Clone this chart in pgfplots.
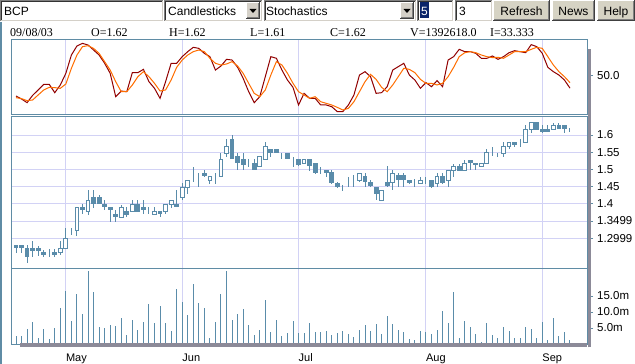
\documentclass[border=0pt]{standalone}
\usepackage{fontspec}
\setmainfont{Liberation Serif}
\newfontfamily\arial{Liberation Sans}
\usepackage{pgfplots}
\usepackage{pgfplotstable}
\pgfplotsset{compat=1.18}
\definecolor{frame}{RGB}{95,140,165}
\definecolor{candle}{RGB}{90,140,170}
\definecolor{lav}{RGB}{210,210,245}
\definecolor{kred}{RGB}{145,0,0}
\definecolor{dorg}{RGB}{255,110,0}
\definecolor{band}{RGB}{140,138,152}
\definecolor{btn}{RGB}{214,211,196}
\definecolor{face}{RGB}{212,208,200}
\definecolor{navy}{RGB}{10,36,106}

\pgfplotstableread{
i o h l c v k d
0 1.280 1.280 1.258 1.273 2.6 22.8 20.6
1 1.280 1.280 1.258 1.273 2.6 18.8 19.3
2 1.270 1.280 1.229 1.246 4.7 13.9 16.6
3 1.270 1.292 1.246 1.263 6.9 23.7 17.5
4 1.270 1.277 1.248 1.263 1.9 30.9 24.2
5 1.259 1.266 1.244 1.252 4.7 38.4 30.9
6 1.251 1.270 1.244 1.251 1.6 38.4 34.4
7 1.259 1.270 1.246 1.252 5.0 27.3 34.0
8 1.259 1.292 1.251 1.270 11.25 37.6 33.1
9 1.270 1.329 1.270 1.300 16.6 53.2 38.9
10 1.321 1.329 1.309 1.321 7.2 77.7 59.9
11 1.321 1.389 1.307 1.389 15.6 89.8 77.7
12 1.390 1.398 1.369 1.382 9.4 93.3 88.9
13 1.377 1.440 1.367 1.411 22.8 91.1 90.2
14 1.419 1.440 1.387 1.401 16.25 84.4 86.6
15 1.419 1.426 1.398 1.401 5.3 77.7 79.9
16 1.398 1.411 1.382 1.392 5.0 66.6 68.8
17 1.390 1.390 1.348 1.382 5.9 53.2 57.6
18 1.369 1.382 1.348 1.362 5.6 21.9 42.0
19 1.361 1.396 1.361 1.389 8.1 29.5 28.6
20 1.379 1.392 1.363 1.370 2.8 28.6 28.6
21 1.377 1.411 1.377 1.398 7.5 54.1 37.6
22 1.398 1.411 1.377 1.379 4.4 54.1 48.7
23 1.390 1.411 1.369 1.382 6.9 58.5 55.4
24 1.379 1.390 1.369 1.379 12.5 42.0 48.7
25 1.370 1.390 1.370 1.379 6.6 33.1 39.8
26 1.379 1.379 1.363 1.372 11.9 19.7 29.5
27 1.379 1.398 1.369 1.398 6.6 42.0 30.9
28 1.398 1.411 1.387 1.411 4.1 66.6 44.2
29 1.398 1.440 1.392 1.392 17.2 66.6 61.2
30 1.419 1.460 1.411 1.448 13.1 75.5 71.0
31 1.448 1.468 1.428 1.468 9.1 82.2 77.7
32 1.479 1.508 1.464 1.479 18.75 88.0 82.2
33 1.489 1.489 1.448 1.489 12.8 86.6 84.4
34 1.489 1.498 1.479 1.482 11.25 79.9 82.2
35 1.467 1.479 1.459 1.479 1.9 75.5 73.3
36 1.467 1.489 1.459 1.467 6.9 57.6 66.6
37 1.479 1.547 1.479 1.529 15.6 63.0 64.3
38 1.547 1.587 1.537 1.566 22.8 71.9 65.7
39 1.587 1.600 1.529 1.532 7.5 71.0 68.8
40 1.537 1.547 1.498 1.519 9.4 61.2 63.0
41 1.529 1.547 1.498 1.513 10.9 46.5 53.2
42 1.519 1.529 1.508 1.519 5.9 28.6 39.8
43 1.517 1.529 1.498 1.500 2.8 13.9 26.4
44 1.508 1.537 1.508 1.537 4.4 21.9 21.9
45 1.529 1.581 1.529 1.566 13.75 48.7 30.9
46 1.558 1.558 1.537 1.549 3.75 75.5 50.9
47 1.558 1.558 1.549 1.549 7.5 73.3 68.8
48 1.547 1.547 1.529 1.547 2.5 57.6 64.3
49 1.547 1.547 1.529 1.532 3.4 44.2 53.2
50 1.527 1.537 1.508 1.527 7.2 34.4 39.8
51 1.529 1.529 1.510 1.513 3.4 10.8 28.6
52 1.517 1.529 1.517 1.529 3.4 26.4 24.2
53 1.529 1.529 1.494 1.510 6.6 19.7 19.7
54 1.517 1.519 1.488 1.490 3.75 19.7 21.9
55 1.498 1.508 1.488 1.498 3.75 10.8 15.2
56 1.498 1.498 1.479 1.490 4.1 10.8 13.0
57 1.490 1.498 1.459 1.461 2.9 8.5 10.8
58 1.459 1.464 1.448 1.450 3.5 1.9 7.6
59 1.448 1.455 1.438 1.448 4.1 1.9 4.1
60 1.461 1.479 1.448 1.461 3.2 10.8 6.3
61 1.461 1.484 1.448 1.461 2.3 24.2 15.2
62 1.469 1.489 1.464 1.489 4.5 50.9 28.6
63 1.479 1.489 1.448 1.464 6.0 55.4 42.0
64 1.461 1.469 1.448 1.452 4.1 48.7 51.8
65 1.448 1.448 1.411 1.430 6.3 26.4 45.1
66 1.411 1.440 1.411 1.440 3.2 27.3 34.4
67 1.461 1.510 1.448 1.452 8.9 35.3 28.6
68 1.461 1.498 1.440 1.489 6.3 57.6 37.6
69 1.481 1.489 1.450 1.471 4.5 62.1 48.7
70 1.481 1.489 1.448 1.471 3.9 66.6 59.9
71 1.469 1.469 1.459 1.461 1.6 50.9 58.5
72 1.461 1.471 1.448 1.461 1.3 44.2 54.1
73 1.459 1.479 1.459 1.469 4.1 33.1 45.1
74 1.469 1.479 1.459 1.469 3.9 40.7 39.8
75 1.469 1.469 1.448 1.450 3.2 35.3 39.8
76 1.459 1.489 1.448 1.479 4.5 43.4 37.6
77 1.479 1.489 1.459 1.461 10.4 35.3 39.8
78 1.467 1.498 1.448 1.498 6.7 71.0 48.7
79 1.498 1.517 1.479 1.508 16.4 75.5 61.2
80 1.508 1.517 1.498 1.498 2.0 85.3 75.5
81 1.498 1.527 1.498 1.517 7.3 82.2 80.8
82 1.527 1.527 1.498 1.520 5.2 82.2 82.2
83 1.517 1.517 1.498 1.513 3.2 79.9 80.8
84 1.508 1.517 1.508 1.517 0.7 73.3 77.7
85 1.517 1.558 1.517 1.549 6.7 73.3 75.5
86 1.549 1.566 1.539 1.549 2.9 76.4 74.2
87 1.539 1.549 1.537 1.539 2.0 71.9 74.6
88 1.547 1.581 1.537 1.566 5.4 75.5 73.3
89 1.566 1.578 1.558 1.578 4.1 80.8 77.7
90 1.578 1.581 1.566 1.571 2.0 83.5 82.2
91 1.578 1.587 1.566 1.578 2.0 82.2 82.2
92 1.578 1.629 1.578 1.617 5.2 80.8 82.2
93 1.617 1.636 1.607 1.636 4.8 91.6 85.3
94 1.636 1.636 1.615 1.617 2.0 88.9 88.0
95 1.617 1.629 1.605 1.610 7.0 79.9 86.6
96 1.617 1.629 1.610 1.610 1.3 61.2 75.5
97 1.617 1.636 1.617 1.629 8.0 55.4 64.3
98 1.629 1.636 1.619 1.619 2.6 50.9 55.4
99 1.629 1.629 1.607 1.619 3.9 44.2 48.7
100 1.620 1.620 1.610 1.620 1.39 33.3 40.7
}\data

\newcommand\sunken[4]{%
  \fill[white] (#1,#2) rectangle (#3,#4);
  \draw[black!50, line width=1bp] (#1+0.5,#4) -- (#1+0.5,#2+0.5) -- (#3,#2+0.5);
  \draw[black!80, line width=1bp] (#1+1.5,#4-1) -- (#1+1.5,#2+1.5) -- (#3-1,#2+1.5);
  \draw[face, line width=1bp] (#1+1,#4-0.5) -- (#3-0.5,#4-0.5) -- (#3-0.5,#2+1);
}
\newcommand\raised[5]{%
  \fill[#5] (#1,#2) rectangle (#3,#4);
  \draw[white, line width=1bp] (#1+0.5,#4-1) -- (#1+0.5,#2+0.5) -- (#3-1,#2+0.5);
  \draw[black!75, line width=1bp] (#1,#4-0.5) -- (#3-0.5,#4-0.5) -- (#3-0.5,#2);
  \draw[black!50, line width=1bp] (#1+1,#4-1.5) -- (#3-1.5,#4-1.5) -- (#3-1.5,#2+1);
}

\pgfplotsset{
  panel/.style={
    scale only axis, width=576bp, xmin=-0.903, xmax=103.07, anchor=south west,
    axis line style={draw=frame, line width=1bp},
    tick style={draw=frame, line width=1bp},
    major tick length=6bp, tick align=outside,
    xtick={9,30,51,74,95}, xticklabels={}, xtick style={draw=none},
    xmajorgrids, major grid style={draw=lav, line width=1bp},
    ytick pos=right, yticklabel pos=right,
    yticklabel style={font=\arial\fontsize{11.5bp}{12bp}\selectfont, anchor=west, inner sep=0pt, xshift=4bp},
    /pgf/number format/assume math mode=true,
  },
}

\begin{document}
\begin{tikzpicture}
\path[use as bounding box, fill=white] (0,0) rectangle (635bp,364bp);

% stochastics panel
\begin{axis}[panel, at={(11bp,249bp)}, height=75bp, ymin=-2.6, ymax=97.8,
  ytick={50}, yticklabels={50.0}]
\addplot[kred, line width=1bp, mark=none] table[x=i,y=k]{\data};
\addplot[dorg, line width=1bp, mark=none] table[x=i,y=d]{\data};
\end{axis}

% price panel: grid and wicks
\begin{axis}[panel, at={(11bp,95.7bp)}, height=151.8bp, ymin=1.2125, ymax=1.6538, ymajorgrids,
  ytick={1.2999,1.3499,1.4,1.45,1.5,1.55,1.6},
  yticklabels={1.2999,1.3499,1.4,1.45,1.5,1.55,1.6}]
\addplot[draw=none, mark=none, error bars/.cd, y dir=both, y explicit, error mark=none,
  error bar style={draw=candle, line width=1bp}]
  table[x=i, y=c, y error plus expr={\thisrow{h}-\thisrow{c}}, y error minus expr={\thisrow{c}-\thisrow{l}}]{\data};
\end{axis}
% price panel: candle bodies
\begin{axis}[scale only axis, width=576bp, height=151.8bp, at={(11bp,95.7bp)}, anchor=south west,
  xmin=-0.903, xmax=103.07, ymin=1.2125, ymax=1.6538, hide axis, ybar stacked, bar width=3.8bp]
\addplot[draw=none, fill=none] table[x=i, y expr={min(\thisrow{o},\thisrow{c})}]{\data};
\addplot[draw=candle, fill=white, line width=1bp] table[x=i, y expr={max(\thisrow{c}-\thisrow{o},0)}]{\data};
\addplot[draw=candle, fill=candle, line width=1bp] table[x=i, y expr={max(\thisrow{o}-\thisrow{c},0)}]{\data};
\end{axis}

% volume panel
\begin{axis}[panel, at={(11bp,20bp)}, height=75.7bp, ymin=0, ymax=23.66,
  ytick={5,10,15}, yticklabels={5.0m,10.0m,15.0m},
  xticklabels={May,Jun,Jul,Aug,Sep},
  xticklabel style={font=\arial\fontsize{11bp}{12bp}\selectfont, anchor=base west, inner sep=0pt, yshift=-11bp}]
\addplot[ycomb, draw=candle, line width=1bp, mark=none] table[x=i,y=v]{\data};
\end{axis}

% axis bands
\draw[band, line width=4bp] (20bp,18.5bp) -- (587bp,18.5bp);
\draw[band, line width=3bp] (589.2bp,16.5bp) -- (589.2bp,315bp);
\draw[frame, line width=1.5bp] (0.75bp,0bp) -- (0.75bp,342bp);

\begin{scope}[x=1bp, y=-1bp, shift={(0bp,364bp)}]
  \sunken{0}{0}{163}{21}
  \node[anchor=base west, inner sep=0pt, font=\arial\fontsize{12bp}{14bp}\selectfont] at (4,16) {BCP};
  \sunken{164}{0}{262}{21}
  \node[anchor=base west, inner sep=0pt, font=\arial\fontsize{12bp}{14bp}\selectfont] at (168,16) {Candlesticks};
  \raised{246}{2.5}{260}{19}{face}
  \fill (249.5,9) -- (256.5,9) -- (253,13) -- cycle;
  \sunken{264}{0}{416}{21}
  \node[anchor=base west, inner sep=0pt, font=\arial\fontsize{12bp}{14bp}\selectfont] at (266,16) {Stochastics};
  \raised{400}{2.5}{414}{19}{face}
  \fill (403.5,9) -- (410.5,9) -- (407,13) -- cycle;
  \sunken{417}{0}{453}{21}
  \fill[navy] (420,2.5) rectangle (429,18.5);
  \node[anchor=base west, inner sep=0pt, text=white, font=\arial\fontsize{12bp}{14bp}\selectfont] at (421,16) {5};
  \sunken{455}{0}{492}{21}
  \node[anchor=base west, inner sep=0pt, font=\arial\fontsize{12bp}{14bp}\selectfont] at (459,16) {3};
  \raised{493}{0}{550}{21}{btn}
  \node[anchor=base, inner sep=0pt, font=\arial\fontsize{12bp}{14bp}\selectfont] at (521.5,16) {Refresh};
  \raised{552}{0}{595}{21}{btn}
  \node[anchor=base, inner sep=0pt, font=\arial\fontsize{12bp}{14bp}\selectfont] at (573.5,16) {News};
  \raised{597}{0}{635}{21}{btn}
  \node[anchor=base, inner sep=0pt, font=\arial\fontsize{12bp}{14bp}\selectfont] at (616,16) {Help};
  % header line
  \foreach \xx/\tt in {10/09\slash 08\slash 03, 91/O=1.62, 169/H=1.62, 250/L=1.61, 330/C=1.62, 410/V=1392618.0, 490/I=33.333}
    \node[anchor=base west, inner sep=0pt, font=\fontsize{12bp}{14bp}\selectfont] at (\xx,37) {\tt};
\end{scope}
\end{tikzpicture}
\end{document}
